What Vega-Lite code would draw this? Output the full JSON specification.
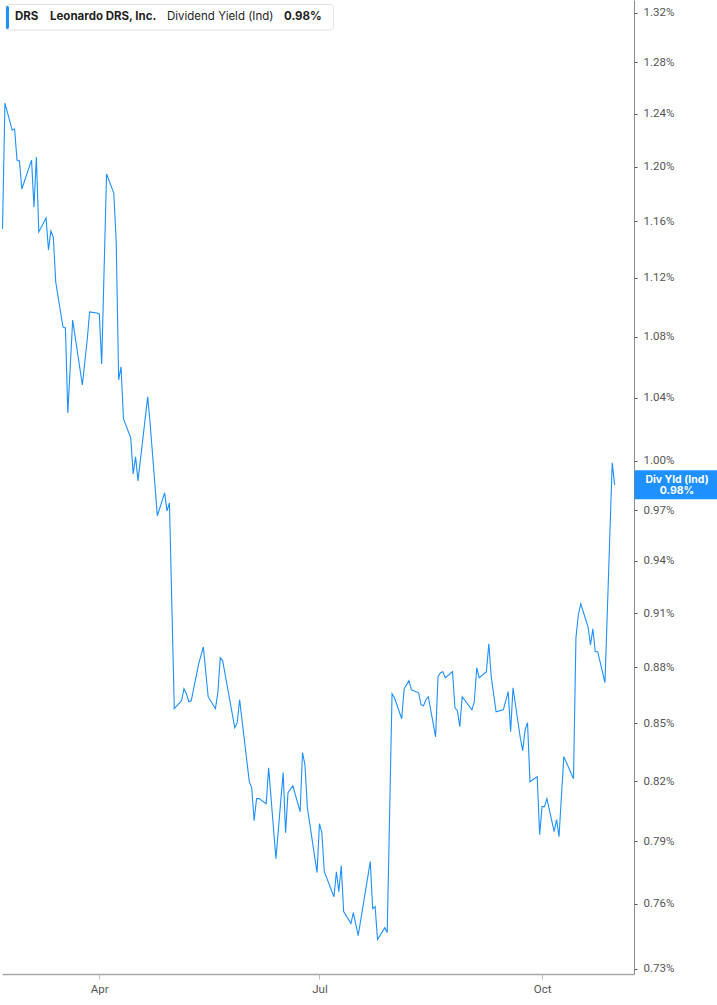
{
  "$schema": "https://vega.github.io/schema/vega-lite/v6.json",
  "description": "Leonardo DRS dividend yield (indicated), Feb-Oct 2025, log scale",
  "width": 632,
  "height": 974,
  "padding": 0,
  "background": "white",
  "config": {
    "view": {"stroke": null},
    "font": "Roboto",
    "axis": {"grid": false, "title": null, "labelFont": "Roboto", "labelFontSize": 11.5, "labelColor": "#555555"}
  },
  "layer": [
    {
      "data": {
        "values": [
          {"date": "2025-02-20", "yield": 1.1545},
          {"date": "2025-02-21", "yield": 1.2482},
          {"date": "2025-02-24", "yield": 1.2275},
          {"date": "2025-02-25", "yield": 1.2283},
          {"date": "2025-02-26", "yield": 1.2049},
          {"date": "2025-02-27", "yield": 1.2042},
          {"date": "2025-02-28", "yield": 1.1835},
          {"date": "2025-03-04", "yield": 1.2049},
          {"date": "2025-03-05", "yield": 1.1704},
          {"date": "2025-03-06", "yield": 1.2072},
          {"date": "2025-03-07", "yield": 1.1524},
          {"date": "2025-03-10", "yield": 1.1624},
          {"date": "2025-03-11", "yield": 1.1396},
          {"date": "2025-03-12", "yield": 1.1531},
          {"date": "2025-03-13", "yield": 1.1488},
          {"date": "2025-03-14", "yield": 1.1172},
          {"date": "2025-03-17", "yield": 1.0865},
          {"date": "2025-03-18", "yield": 1.0859},
          {"date": "2025-03-19", "yield": 1.0302},
          {"date": "2025-03-21", "yield": 1.0912},
          {"date": "2025-03-25", "yield": 1.0482},
          {"date": "2025-03-27", "yield": 1.0778},
          {"date": "2025-03-28", "yield": 1.0967},
          {"date": "2025-03-31", "yield": 1.0960},
          {"date": "2025-04-01", "yield": 1.0953},
          {"date": "2025-04-02", "yield": 1.0619},
          {"date": "2025-04-04", "yield": 1.1945},
          {"date": "2025-04-07", "yield": 1.1805},
          {"date": "2025-04-08", "yield": 1.1453},
          {"date": "2025-04-09", "yield": 1.0515},
          {"date": "2025-04-10", "yield": 1.0600},
          {"date": "2025-04-11", "yield": 1.0264},
          {"date": "2025-04-14", "yield": 1.0144},
          {"date": "2025-04-15", "yield": 0.9920},
          {"date": "2025-04-16", "yield": 1.0025},
          {"date": "2025-04-17", "yield": 0.9877},
          {"date": "2025-04-21", "yield": 1.0405},
          {"date": "2025-04-22", "yield": 1.0238},
          {"date": "2025-04-25", "yield": 0.9666},
          {"date": "2025-04-28", "yield": 0.9804},
          {"date": "2025-04-29", "yield": 0.9695},
          {"date": "2025-04-30", "yield": 0.9744},
          {"date": "2025-05-02", "yield": 0.8577},
          {"date": "2025-05-05", "yield": 0.8619},
          {"date": "2025-05-06", "yield": 0.8684},
          {"date": "2025-05-07", "yield": 0.8657},
          {"date": "2025-05-08", "yield": 0.8614},
          {"date": "2025-05-09", "yield": 0.8619},
          {"date": "2025-05-12", "yield": 0.8814},
          {"date": "2025-05-14", "yield": 0.8912},
          {"date": "2025-05-16", "yield": 0.8641},
          {"date": "2025-05-19", "yield": 0.8577},
          {"date": "2025-05-20", "yield": 0.8662},
          {"date": "2025-05-21", "yield": 0.8852},
          {"date": "2025-05-22", "yield": 0.8835},
          {"date": "2025-05-27", "yield": 0.8476},
          {"date": "2025-05-28", "yield": 0.8503},
          {"date": "2025-05-29", "yield": 0.8625},
          {"date": "2025-06-02", "yield": 0.8198},
          {"date": "2025-06-03", "yield": 0.8167},
          {"date": "2025-06-04", "yield": 0.8002},
          {"date": "2025-06-05", "yield": 0.8112},
          {"date": "2025-06-06", "yield": 0.8112},
          {"date": "2025-06-09", "yield": 0.8087},
          {"date": "2025-06-10", "yield": 0.8269},
          {"date": "2025-06-13", "yield": 0.7816},
          {"date": "2025-06-16", "yield": 0.8244},
          {"date": "2025-06-17", "yield": 0.7943},
          {"date": "2025-06-18", "yield": 0.8142},
          {"date": "2025-06-20", "yield": 0.8177},
          {"date": "2025-06-23", "yield": 0.8047},
          {"date": "2025-06-24", "yield": 0.8346},
          {"date": "2025-06-25", "yield": 0.8284},
          {"date": "2025-06-26", "yield": 0.8067},
          {"date": "2025-06-30", "yield": 0.7749},
          {"date": "2025-07-01", "yield": 0.7987},
          {"date": "2025-07-02", "yield": 0.7943},
          {"date": "2025-07-03", "yield": 0.7753},
          {"date": "2025-07-07", "yield": 0.7634},
          {"date": "2025-07-08", "yield": 0.7753},
          {"date": "2025-07-09", "yield": 0.7658},
          {"date": "2025-07-10", "yield": 0.7782},
          {"date": "2025-07-11", "yield": 0.7564},
          {"date": "2025-07-14", "yield": 0.7508},
          {"date": "2025-07-15", "yield": 0.7559},
          {"date": "2025-07-17", "yield": 0.7452},
          {"date": "2025-07-22", "yield": 0.7802},
          {"date": "2025-07-23", "yield": 0.7578},
          {"date": "2025-07-24", "yield": 0.7587},
          {"date": "2025-07-25", "yield": 0.7434},
          {"date": "2025-07-28", "yield": 0.7489},
          {"date": "2025-07-29", "yield": 0.7466},
          {"date": "2025-07-31", "yield": 0.8657},
          {"date": "2025-08-01", "yield": 0.8635},
          {"date": "2025-08-04", "yield": 0.8524},
          {"date": "2025-08-05", "yield": 0.8684},
          {"date": "2025-08-07", "yield": 0.8727},
          {"date": "2025-08-08", "yield": 0.8678},
          {"date": "2025-08-11", "yield": 0.8662},
          {"date": "2025-08-12", "yield": 0.8598},
          {"date": "2025-08-13", "yield": 0.8593},
          {"date": "2025-08-14", "yield": 0.8625},
          {"date": "2025-08-15", "yield": 0.8641},
          {"date": "2025-08-18", "yield": 0.8429},
          {"date": "2025-08-19", "yield": 0.8748},
          {"date": "2025-08-20", "yield": 0.8770},
          {"date": "2025-08-21", "yield": 0.8776},
          {"date": "2025-08-22", "yield": 0.8743},
          {"date": "2025-08-25", "yield": 0.8776},
          {"date": "2025-08-26", "yield": 0.8582},
          {"date": "2025-08-27", "yield": 0.8566},
          {"date": "2025-08-28", "yield": 0.8482},
          {"date": "2025-08-29", "yield": 0.8641},
          {"date": "2025-09-02", "yield": 0.8571},
          {"date": "2025-09-03", "yield": 0.8614},
          {"date": "2025-09-04", "yield": 0.8797},
          {"date": "2025-09-05", "yield": 0.8743},
          {"date": "2025-09-08", "yield": 0.8776},
          {"date": "2025-09-09", "yield": 0.8929},
          {"date": "2025-09-10", "yield": 0.8748},
          {"date": "2025-09-12", "yield": 0.8561},
          {"date": "2025-09-15", "yield": 0.8571},
          {"date": "2025-09-17", "yield": 0.8668},
          {"date": "2025-09-18", "yield": 0.8455},
          {"date": "2025-09-19", "yield": 0.8689},
          {"date": "2025-09-22", "yield": 0.8424},
          {"date": "2025-09-23", "yield": 0.8357},
          {"date": "2025-09-24", "yield": 0.8466},
          {"date": "2025-09-25", "yield": 0.8503},
          {"date": "2025-09-26", "yield": 0.8198},
          {"date": "2025-09-29", "yield": 0.8223},
          {"date": "2025-09-30", "yield": 0.7933},
          {"date": "2025-10-01", "yield": 0.8072},
          {"date": "2025-10-02", "yield": 0.8072},
          {"date": "2025-10-03", "yield": 0.8112},
          {"date": "2025-10-06", "yield": 0.7948},
          {"date": "2025-10-07", "yield": 0.8007},
          {"date": "2025-10-08", "yield": 0.7923},
          {"date": "2025-10-10", "yield": 0.8326},
          {"date": "2025-10-14", "yield": 0.8213},
          {"date": "2025-10-15", "yield": 0.8962},
          {"date": "2025-10-16", "yield": 0.9091},
          {"date": "2025-10-17", "yield": 0.9153},
          {"date": "2025-10-20", "yield": 0.9023},
          {"date": "2025-10-21", "yield": 0.8923},
          {"date": "2025-10-22", "yield": 0.9012},
          {"date": "2025-10-23", "yield": 0.8885},
          {"date": "2025-10-24", "yield": 0.8885},
          {"date": "2025-10-27", "yield": 0.8716},
          {"date": "2025-10-30", "yield": 0.9988},
          {"date": "2025-10-31", "yield": 0.9853}
        ]
      },
      "mark": {"type": "line", "color": "#1e90ff", "strokeWidth": 1.1, "interpolate": "linear"},
      "encoding": {
        "x": {
          "field": "date",
          "type": "temporal",
          "scale": {
            "type": "utc",
            "domain": [
              {"year": 2025, "month": 2, "date": 19, "hours": 19, "utc": true},
              {"year": 2025, "month": 11, "date": 8, "utc": true}
            ]
          },
          "axis": {
            "values": [
              {"year": 2025, "month": 4, "date": 1, "utc": true},
              {"year": 2025, "month": 7, "date": 1, "utc": true},
              {"year": 2025, "month": 10, "date": 1, "utc": true}
            ],
            "format": "%b",
            "domainColor": "#a8a8a8",
            "domainWidth": 1.5,
            "tickColor": "#bbbbbb",
            "tickSize": 5,
            "labelPadding": 4
          }
        },
        "y": {
          "field": "yield",
          "type": "quantitative",
          "scale": {"type": "log", "domain": [0.7277, 1.3305], "nice": false, "zero": false},
          "axis": {
            "orient": "right",
            "values": [0.73, 0.76, 0.79, 0.82, 0.85, 0.88, 0.91, 0.94, 0.97, 1.0, 1.04, 1.08, 1.12, 1.16, 1.2, 1.24, 1.28, 1.32],
            "labelExpr": "format(datum.value, '.2f') + '%'",
            "domainColor": "#8c8c8c",
            "tickColor": "#555555",
            "tickSize": 3,
            "labelPadding": 6
          }
        }
      }
    },
    {
      "data": {"values": [{"label": "box"}]},
      "mark": {"type": "rect", "fill": "white", "stroke": "#e2e2e2", "strokeWidth": 1, "cornerRadius": 3, "xOffset": 4, "x2Offset": 331.5, "yOffset": 4.5, "y2Offset": 30},
      "encoding": {
        "x": {"datum": {"year": 2025, "month": 2, "date": 19, "hours": 19, "utc": true}, "type": "temporal"},
        "x2": {"datum": {"year": 2025, "month": 2, "date": 19, "hours": 19, "utc": true}},
        "y": {"datum": 1.3305, "type": "quantitative"},
        "y2": {"datum": 1.3305}
      }
    },
    {
      "data": {"values": [{"label": "bar"}]},
      "mark": {"type": "rect", "fill": "#1e90ff", "cornerRadius": 1.5, "xOffset": 4, "x2Offset": 7, "yOffset": 6, "y2Offset": 29},
      "encoding": {
        "x": {"datum": {"year": 2025, "month": 2, "date": 19, "hours": 19, "utc": true}, "type": "temporal"},
        "x2": {"datum": {"year": 2025, "month": 2, "date": 19, "hours": 19, "utc": true}},
        "y": {"datum": 1.3305, "type": "quantitative"},
        "y2": {"datum": 1.3305}
      }
    },
    {
      "data": {"values": [{"label": "DRS"}]},
      "mark": {"type": "text", "font": "Inter", "fontSize": 11.5, "fontWeight": "bold", "color": "#1f1f1f", "align": "left", "baseline": "middle", "dx": 13, "dy": 17},
      "encoding": {
        "x": {"datum": {"year": 2025, "month": 2, "date": 19, "hours": 19, "utc": true}, "type": "temporal"},
        "y": {"datum": 1.3305, "type": "quantitative"},
        "text": {"field": "label"}
      }
    },
    {
      "data": {"values": [{"label": "Leonardo DRS, Inc."}]},
      "mark": {"type": "text", "font": "Inter", "fontSize": 11.5, "fontWeight": "bold", "color": "#1f1f1f", "align": "left", "baseline": "middle", "dx": 48, "dy": 17},
      "encoding": {
        "x": {"datum": {"year": 2025, "month": 2, "date": 19, "hours": 19, "utc": true}, "type": "temporal"},
        "y": {"datum": 1.3305, "type": "quantitative"},
        "text": {"field": "label"}
      }
    },
    {
      "data": {"values": [{"label": "Dividend Yield (Ind)"}]},
      "mark": {"type": "text", "font": "Inter", "fontSize": 11.5, "fontWeight": "normal", "color": "#1f1f1f", "align": "left", "baseline": "middle", "dx": 165, "dy": 17},
      "encoding": {
        "x": {"datum": {"year": 2025, "month": 2, "date": 19, "hours": 19, "utc": true}, "type": "temporal"},
        "y": {"datum": 1.3305, "type": "quantitative"},
        "text": {"field": "label"}
      }
    },
    {
      "data": {"values": [{"label": "0.98%"}]},
      "mark": {"type": "text", "font": "Inter", "fontSize": 11.5, "fontWeight": "bold", "color": "#1f1f1f", "align": "left", "baseline": "middle", "dx": 282, "dy": 17},
      "encoding": {
        "x": {"datum": {"year": 2025, "month": 2, "date": 19, "hours": 19, "utc": true}, "type": "temporal"},
        "y": {"datum": 1.3305, "type": "quantitative"},
        "text": {"field": "label"}
      }
    },
    {
      "data": {"values": [{"label": "tag"}]},
      "mark": {"type": "rect", "fill": "#1e90ff", "xOffset": 0.5, "x2Offset": 85, "yOffset": -14.5, "y2Offset": 14.5},
      "encoding": {
        "x": {"datum": {"year": 2025, "month": 11, "date": 8, "utc": true}, "type": "temporal"},
        "x2": {"datum": {"year": 2025, "month": 11, "date": 8, "utc": true}},
        "y": {"datum": 0.9853, "type": "quantitative"},
        "y2": {"datum": 0.9853}
      }
    },
    {
      "data": {"values": [{"label": "Div Yld (Ind)"}]},
      "mark": {"type": "text", "font": "Inter", "fontSize": 10.5, "fontWeight": "bold", "color": "white", "align": "center", "baseline": "middle", "dx": 43, "dy": -5},
      "encoding": {
        "x": {"datum": {"year": 2025, "month": 11, "date": 8, "utc": true}, "type": "temporal"},
        "y": {"datum": 0.9853, "type": "quantitative"},
        "text": {"field": "label"}
      }
    },
    {
      "data": {"values": [{"label": "0.98%"}]},
      "mark": {"type": "text", "font": "Inter", "fontSize": 10.5, "fontWeight": "bold", "color": "white", "align": "center", "baseline": "middle", "dx": 43, "dy": 6},
      "encoding": {
        "x": {"datum": {"year": 2025, "month": 11, "date": 8, "utc": true}, "type": "temporal"},
        "y": {"datum": 0.9853, "type": "quantitative"},
        "text": {"field": "label"}
      }
    }
  ]
}
